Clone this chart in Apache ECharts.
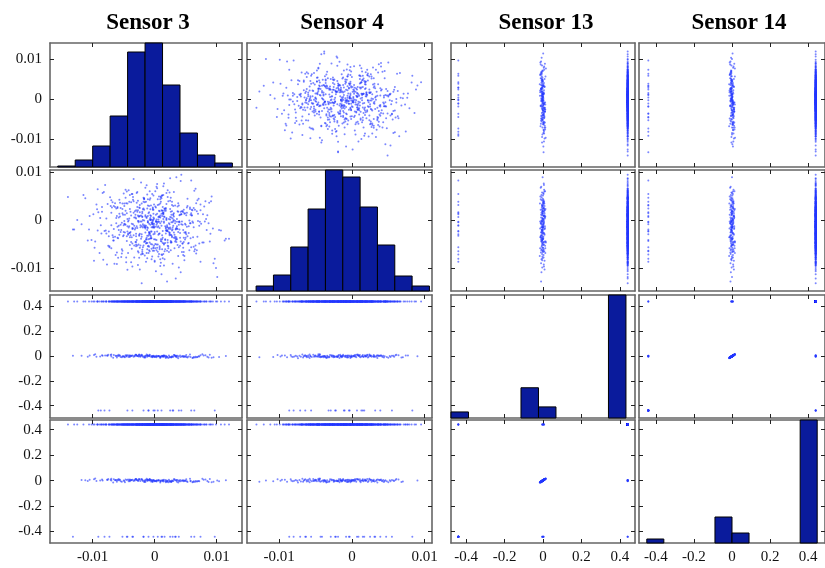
<!DOCTYPE html>
<html><head><meta charset="utf-8">
<script src="https://cdn.jsdelivr.net/npm/echarts@6/dist/echarts.min.js"></script>
<style>html,body{margin:0;padding:0;background:#fff;}#c{width:825px;height:568px;}</style>
</head><body><div id="c"></div>
<script>
// ---------------- DATA ----------------
const sensorNames = ['Sensor 3', 'Sensor 4', 'Sensor 13', 'Sensor 14'];
const smallTicks = [-0.01, 0, 0.01];
const largeTicks = [-0.4, -0.2, 0, 0.2, 0.4];

// samples: Sensor 3 and Sensor 4 in units of 1e-4
const s3raw = [
-12,35,-48,6,-71,22,-5,58,-30,14,-88,41,-17,3,66,-39,27,-60,9,-2,
49,-25,-94,18,-9,31,-53,72,-14,0,-36,85,-67,12,-21,44,-3,-118,26,-45,
7,63,-32,-11,38,-76,20,-58,95,-1,-27,15,-42,53,-84,29,-8,4,-62,36,
-19,77,-50,10,-33,24,-105,46,-6,61,-24,-70,33,-15,2,89,-41,17,-56,28,
-4,-37,50,-98,13,-28,69,-13,40,-64,21,-7,101,-46,8,-22,55,-80,30,-10,
43,-52,16,-132,34,-18,74,-35,5,-73,25,-2,59,-44,11,-91,39,-26,82,-16,
-59,19,-8,47,-29,65,-77,1,32,-49,92,-20,14,-66,42,-38,23,-108,57,-4,
27,-43,71,-12,-55,9,37,-85,48,-31,3,115,-23,18,-61,51,-9,-40,79,-17,
-70,30,-3,62,-47,13,-26,104,-57,20,-11,45,-96,35,-34,6,68,-21,-1,-75,
52,-15,24,-63,87,-40,10,-30,39,-112,26,-6,58,-51,15,-24,74,-87,0,33,
-45,12,64,-18,-81,29,-36,97,-10,41,-58,4,22,-69,50,-27,8,-140,36,-13,
18,-53,83,-7,-34,54,-99,25,-20,67,-43,11,-3,120,-62,31,-16,46,-79,5,
-28,70,-48,14,35,-65,2,-23,91,-37,19,-86,43,-12,60,-54,28,-5,-102,47,
-18,23,-72,56,-9,38,-44,7,-130,64,-30,16,-60,81,-22,1,49,-39,12,-83,
37,-14,75,-50,20,-27,107,-68,9,-41,53,-4,-93,30,-19,66,-57,15,-8,44,
-36,88,-25,3,-74,42,-11,61,-47,21,-115,34,-2,55,-66,26,-31,94,-17,10,
-52,17,40,-89,28,-6,73,-42,13,-24,99,-60,6,-35,48,-78,24,-13,59,-1,
31,-70,8,-20,63,-46,19,-125,45,-29,84,-11,2,-55,35,-92,50,-33,12,69,
-15,46,-64,23,-38,7,90,-51,16,-8,57,-97,28,-21,39,-74,4,113,-44,18,
-27,60,-3,-82,33,-16,52,-61,11,-40,78,-30,25,-106,42,-7,67,-49,20,-12,
5,-22,31,-9,14,-40,2,26,-17,-3,45,-31,11,-6,20,-52,8,-14,37,-25,
-1,18,-36,9,-11,53,-20,4,28,-45,13,-7,-29,40,-2,16,-60,24,-13,6,
34,-16,-4,21,-47,12,-27,3,57,-19,-8,30,-38,15,-1,-55,25,-10,42,-23,
10,-33,19,-2,-64,36,-12,7,-26,48,1,-41,22,-15,65,-6,-30,13,-49,27,
-9,39,-21,4,-35,17,-56,29,-5,11,-43,23,-18,72,-28,0,14,-67,33,-11,
47,-7,-24,16,-3,-50,26,-14,8,60,-37,12,-20,3,-78,38,-9,19,-32,1,
-15,28,-44,9,32,-26,-2,51,-17,6,-58,21,-6,43,-34,15,-12,80,-23,-4,
24,-52,13,-8,37,-29,5,-70,18,-1,44,-19,27,-39,10,-5,58,-46,7,-16,
3,-25,49,-13,-61,20,-4,33,-42,14,-10,68,-30,2,25,-53,11,-21,39,-7,
-36,17,-2,55,-24,8,-48,30,-12,4,-85,26,-19,46,-6,13,-33,21,-1,62,
-20,6,35,-41,15,-9,-27,50,-14,2,-66,29,-3,19,-45,11,41,-28,-8,24,
12,-57,27,-5,-18,40,-31,9,74,-22,-1,16,-50,33,-11,5,-38,22,-15,47,
-6,31,-47,18,-2,-73,14,-24,36,-9,56,-35,7,-16,25,-3,-59,43,-12,10,
38,-13,-30,8,52,-40,1,-19,27,-7,-54,15,-26,63,-10,20,-44,4,31,-21,
-11,45,-3,-68,23,-17,12,-37,59,-8,29,-24,3,-49,17,-1,36,-92,14,-5,
21,-28,9,-15,70,-43,26,-6,-34,11,48,-20,-2,34,-62,7,-13,41,-25,0
];
const s4raw = [
-20,-45,12,-3,30,-58,-14,-37,21,-70,5,-26,44,-9,-52,18,-31,26,-81,2,
-40,8,33,-17,-62,15,-5,-48,39,-24,-96,11,-35,52,-12,-66,27,-8,-43,60,
-28,-55,19,-1,-74,34,-22,6,-89,-15,41,-50,0,-33,57,-19,-64,14,-6,-39,
23,-46,-10,48,-77,-25,9,-57,31,-2,-102,16,-34,68,-13,-44,4,-60,37,-21,
-7,55,-36,-84,20,-16,42,-68,-4,28,-53,1,-118,36,-27,10,-47,74,-11,-32,
13,-63,25,-19,-41,47,-86,-8,32,-56,7,-29,83,-23,-71,17,-3,-50,40,-14,
-37,3,61,-45,-12,22,-92,29,-30,-1,50,-65,14,-18,-108,38,-6,-42,24,-75,
6,-28,45,-60,-9,35,-51,18,-83,-16,70,-38,-2,26,-67,11,-24,53,-46,0,
-58,30,-13,-35,64,-79,8,-20,43,-127,-4,19,-44,90,-31,2,-62,35,-15,-53,
16,-25,58,-72,-6,24,-39,4,-98,46,-18,-49,12,-33,77,-57,21,-10,-86,31,
-43,9,-64,39,-22,-4,55,-80,15,-36,-11,67,-54,27,-26,-93,7,49,-17,-40,
20,-69,3,-31,86,-48,13,-15,-61,36,-2,-112,25,-38,5,59,-73,17,-21,44,
-52,14,-8,71,-35,-90,27,-14,40,-59,1,-27,95,-47,11,-76,32,-5,-41,22,
-11,-66,48,0,-29,18,-103,33,-19,62,-45,7,-36,-2,79,-58,15,-24,52,-82,
29,-39,-7,56,-63,10,-21,38,-95,-12,45,-50,23,-1,-70,66,-30,8,-46,19,
-16,37,-78,2,-33,82,-54,21,-9,-41,53,-121,14,-26,30,-62,6,-17,46,-88,
24,-47,11,-68,39,-23,-3,63,-36,17,-99,28,-12,49,-74,4,-31,73,-56,-7,
-25,42,-60,15,-14,-87,34,1,-48,57,-20,9,-106,26,-38,65,-9,-52,20,-34,
8,-72,36,-18,-45,50,-28,12,-81,43,-6,-57,19,-131,31,-23,76,-42,3,-15,
-64,22,-1,59,-37,-10,27,-91,46,-26,13,-54,88,-19,-44,5,-69,35,-13,54,
-14,-38,8,-25,16,-51,-3,-30,22,-63,-9,12,-44,1,-20,35,-57,-11,19,-32,
4,-27,-48,10,-16,30,-69,-6,-35,15,-22,46,-41,-2,-58,24,-13,-29,7,-75,
-19,38,-8,-46,20,-31,-1,-62,27,-15,-38,11,-87,-5,33,-24,2,-53,18,-10,
-43,6,-21,52,-34,-12,25,-70,-4,14,-49,-26,40,-17,-60,9,-33,28,-7,-45,
17,-56,-2,-23,43,-39,8,-15,-81,21,-30,3,-52,-11,59,-28,13,-42,-6,31,
-36,-9,26,-64,1,-24,47,-48,-16,10,-35,-72,18,-3,-27,36,-55,5,-19,-40,
11,-33,-12,44,-58,-1,22,-29,-45,7,-20,63,-37,-8,16,-94,-14,29,-52,-4,
-26,15,-47,2,-18,37,-65,-10,24,-39,-2,-56,12,-31,50,-23,-6,-77,20,-13,
-50,27,-7,-36,9,-22,55,-44,-15,3,-68,19,-28,-1,41,-60,14,-34,-9,23,
-18,-41,6,-12,32,-54,-25,13,-79,-3,28,-46,1,-20,-37,15,-11,49,-63,-5,
8,-30,-16,39,-48,-7,21,-24,-86,12,-42,4,-15,57,-33,-2,-53,18,-27,-8,
-39,14,-4,-59,25,-19,-45,6,33,-71,-12,20,-31,-1,44,-50,10,-23,-14,-66,
2,-36,47,-21,-9,-54,16,-28,-3,30,-62,-17,8,-43,24,-6,-78,13,-32,39,
-24,5,-50,19,-13,-35,61,-8,-46,11,-20,-2,-67,26,-39,-10,35,-57,1,-29,
-4,-48,22,-31,-16,45,-60,-7,15,-26,-90,9,-41,30,-12,-52,3,-21,53,-37,
-15,28,-6,-44,-1,-68,18,-33,40,-11,-25,7,-56,-18,25,-3,-47,12,-30,-84
];
// samples: Sensor 13 and Sensor 14 in units of 0.001
const s13raw = [
-5,3,-10,-2,8,-15,0,-7,10,-5,-3,5,-12,2,-6,0,-10,5,-8,3,
-2,12,-5,-15,0,8,-10,-3,3,-8,5,-5,-13,0,10,-2,-6,2,-10,7,
0,-7,-2,5,-17,3,-5,10,-10,-3,0,5,-8,-12,2,-5,7,-2,0,-10,
-5,15,-2,-7,3,-10,5,0,-5,-15,8,-3,2,-12,-5,10,0,-7,5,-2,
-10,3,-5,8,-2,0,-7,12,
440,440,440,440,440,
0,-5,2,-3,5,
-440,-440,-440,
-2,0,3,-5,
440,440,440,
-440,-440,-440,-440,-440,-440,-440,-440,-440,
-3,6,-9,1,-4,11,-7,2,-12,4,-1,8,-6,-14,3,-2,9,-8,0,5,
-5,13,-3,-10,7,-1,4,-7,-16,2,6,-4,10,-9,1,-6,3,-11,8,-2,
-8,4,-1,12,-5,0,-13,6,-3,9,-7,2,-10,5,-4,14,-2,-6,1,-9,
7,-3,11,-8,0,-5,3,-12,6,-1,9,-4,
440,440,440,440,
-3,4,-1,6,
-440,-440,
1,-4,3,
-440,-440,-440,-440,-440,-440,-440,
440,440,440,440,440,440,440,440,440,440,440,440,440,440,440,440,440,440,440,440,
440,440,440,440,440,440,440,440,440,440,440,440,440,440,440,440,440,440,440,440,
440,440,440,440,440,440,440,440,440,440,440,440,440,440,440,440,440,440,440,440,
440,440,440,440,440,440,440,440,440,440,440,440,440,440,440,440,440,440,440,440,
440,440,440,440,440,440,440,440,440,440,440,440,440,440,440,440,440,440,440,440,
440,440,440,440,440,440,440,440,440,440,440,440,440,440,440,440,440,440,440,440,
440,440,440,440,440,440,440,440,440,440,440,440,440,440,440,440,440,440,440,440,
440,440,440,440,440,440,440,440,440,440,440,440,440,440,440,440,440,440,440,440,
440,440,440,440,440,440,440,440,440,440,440,440,440,440,440,440,440,440,440,440,
440,440,440,440,440,440,440,440,440,440,440,440,440,440,440,440,440,440,440,440,
440,440,440,440,440,440,440,440,440,440,440,440,440,440,440,440,440,440,440,440,
440,440,440,440,440,440,440,440,440,440,440,440,440,440,440,440,440,440,440,440,
440,440,440,440,440,440,440,440,440,440,440,440,440,440,440,440,440,440,440,440,
440,440,440,440,440,440,440,440,440,440,440,440,440,440,440,440,440,440,440,440,
440,440,440,440,440,440,440,440,440,440,440,440,440,440,440,440,440,440,440,440,
440,440,440,440,440,440,440,440,440,440,440,440,440,440,440,440,440,440,440,440,
440,440,440,440,440,440,440,440,440,440,440,440,440,440,440,440,440,440,440,440,
440,440,440,440,440,440,440,440,440,440,440,440,440,440,440,440,440,440,440,440,
440,440,440,440,440,440,440,440,440,440,440,440,440,440,440,440,440,440,440,440,
440,440,440,440,440,440,440,440,440,440,440,440,440,440,440,440,440,440,440,440,
440,440,440,440,440,440,440,440,440,440,440,440,440,440,440,440,440,440,440,440,
440,440,440,440,440,440,440,440,440,440,440,440,440,440,440,440,440,440,440,440,
440,440,440,440,440,440,440,440,440,440,440,440,440,440,440,440,440,440,440,440,
440,440,440,440,440,440,440,440,440,440,440,440,440,440,440,440,440,440,440,440,
440,440,440,440,440,440,440,440,440,440,440,440,440,440,440,440,440,440,440,440,
440,440,440,440,440,440,440,440,440,440,440
];
const s14raw = [
-3,5,-12,0,6,-13,2,-5,12,-7,0,5,-10,0,-3,2,-8,7,-5,5,
0,10,-3,-13,3,10,-8,-5,5,-6,7,-3,-15,2,12,0,-8,5,-8,5,
2,-5,0,7,-15,5,-3,12,-8,0,-2,7,-5,-10,0,-3,10,0,2,-8,
-3,15,0,-5,5,-8,7,2,-7,-12,10,0,3,-10,-3,12,2,-5,7,0,
-8,5,-3,10,0,2,-5,15,
-5,3,-2,5,0,
440,440,440,440,440,
440,440,440,
-440,-440,-440,-440,
-440,-440,-440,
-440,-440,-440,-440,-440,-440,-440,-440,-440,
-1,8,-7,3,-6,13,-5,4,-10,6,-3,10,-4,-12,5,0,11,-6,2,7,
-3,15,-1,-8,9,-3,6,-5,-14,4,8,-2,12,-7,3,-4,5,-9,10,0,
-6,6,1,14,-3,2,-11,8,-1,11,-5,4,-8,7,-2,16,0,-4,3,-7,
9,-1,13,-6,2,-3,5,-10,8,1,11,-2,
2,-4,5,-1,
440,440,440,440,
440,440,
-440,-440,-440,
-440,-440,-440,-440,-440,-440,-440,
440,440,440,440,440,440,440,440,440,440,440,440,440,440,440,440,440,440,440,440,
440,440,440,440,440,440,440,440,440,440,440,440,440,440,440,440,440,440,440,440,
440,440,440,440,440,440,440,440,440,440,440,440,440,440,440,440,440,440,440,440,
440,440,440,440,440,440,440,440,440,440,440,440,440,440,440,440,440,440,440,440,
440,440,440,440,440,440,440,440,440,440,440,440,440,440,440,440,440,440,440,440,
440,440,440,440,440,440,440,440,440,440,440,440,440,440,440,440,440,440,440,440,
440,440,440,440,440,440,440,440,440,440,440,440,440,440,440,440,440,440,440,440,
440,440,440,440,440,440,440,440,440,440,440,440,440,440,440,440,440,440,440,440,
440,440,440,440,440,440,440,440,440,440,440,440,440,440,440,440,440,440,440,440,
440,440,440,440,440,440,440,440,440,440,440,440,440,440,440,440,440,440,440,440,
440,440,440,440,440,440,440,440,440,440,440,440,440,440,440,440,440,440,440,440,
440,440,440,440,440,440,440,440,440,440,440,440,440,440,440,440,440,440,440,440,
440,440,440,440,440,440,440,440,440,440,440,440,440,440,440,440,440,440,440,440,
440,440,440,440,440,440,440,440,440,440,440,440,440,440,440,440,440,440,440,440,
440,440,440,440,440,440,440,440,440,440,440,440,440,440,440,440,440,440,440,440,
440,440,440,440,440,440,440,440,440,440,440,440,440,440,440,440,440,440,440,440,
440,440,440,440,440,440,440,440,440,440,440,440,440,440,440,440,440,440,440,440,
440,440,440,440,440,440,440,440,440,440,440,440,440,440,440,440,440,440,440,440,
440,440,440,440,440,440,440,440,440,440,440,440,440,440,440,440,440,440,440,440,
440,440,440,440,440,440,440,440,440,440,440,440,440,440,440,440,440,440,440,440,
440,440,440,440,440,440,440,440,440,440,440,440,440,440,440,440,440,440,440,440,
440,440,440,440,440,440,440,440,440,440,440,440,440,440,440,440,440,440,440,440,
440,440,440,440,440,440,440,440,440,440,440,440,440,440,440,440,440,440,440,440,
440,440,440,440,440,440,440,440,440,440,440,440,440,440,440,440,440,440,440,440,
440,440,440,440,440,440,440,440,440,440,440,440,440,440,440,440,440,440,440,440,
440,440,440,440,440,440,440,440,440,440,440
];

// histograms (diagonal): bin edges and counts
const hist3Edges = [-0.01565,-0.01283,-0.01001,-0.00719,-0.00437,-0.00155,0.00127,0.00409,0.00691,0.00973,0.01255];
const hist3Counts = [2,14,42,102,230,248,164,68,24,8];
const hist4Edges = [-0.01315,-0.01077,-0.00839,-0.00601,-0.00363,-0.00125,0.00113,0.00351,0.00589,0.00827,0.01065];
const hist4Counts = [5,16,44,82,121,114,84,46,15,5];
const hist13Edges = [-0.478,-0.3871,-0.2962,-0.2053,-0.1144,-0.0235,0.0674,0.1583,0.2492,0.3401,0.431];
const hist13Counts = [6,0,0,0,30,11,0,0,0,122];
const hist14Edges = [-0.448,-0.3584,-0.2688,-0.1792,-0.0896,0,0.0896,0.1792,0.2688,0.3584,0.448];
const hist14Counts = [4,0,0,0,26,10,0,0,0,123];

// axis ranges
const xRanges = [[-0.0169,0.0141],[-0.0144,0.0110],[-0.478,0.478],[-0.489,0.489]];
const yRanges = [[-0.0169,0.0141],[-0.0147,0.0105],[-0.50,0.493],[-0.49,0.476]];

// ---------------- BUILD ----------------
const sensors = [
  s3raw.map(v => v * 1e-4),
  s4raw.map(v => v * 1e-4),
  s13raw.map(v => v * 1e-3),
  s14raw.map(v => v * 1e-3)
];
const hists = [[hist3Edges,hist3Counts],[hist4Edges,hist4Counts],[hist13Edges,hist13Counts],[hist14Edges,hist14Counts]];

const colsL = [50,247,451,639], colsR = [242,432,635,831];
const rowsT = [43,170,295,420], rowsB = [167,291,418,543];
const titleX = [143,337,541,734];

const serif = '"Liberation Serif","Times New Roman",serif';
const lineStyle = {color:'#666', width:1.6};
const tickStyle = {color:'#222', width:1};
const lblStyle = {fontFamily:serif, fontSize:15, color:'#111'};
const fmt = v => String(v);

const grids = [], xAxes = [], yAxes = [], series = [];
const N = Math.min(...sensors.map(a => a.length));

for (let r = 0; r < 4; r++) {
  for (let c = 0; c < 4; c++) {
    const k = grids.length;
    grids.push({left:colsL[c], top:rowsT[r], width:colsR[c]-colsL[c], height:rowsB[r]-rowsT[r]});
    const xt = c < 2 ? smallTicks : largeTicks;
    const yt = r < 2 ? smallTicks : largeTicks;
    const xb = xAxes.length;
    ['bottom','top'].forEach((pos, j) => {
      xAxes.push({type:'value', gridIndex:k, position:pos, min:xRanges[c][0], max:xRanges[c][1],
        axisLine:{show:true, onZero:false, lineStyle},
        axisTick:{show:true, inside:true, length:4, customValues:xt, lineStyle:tickStyle},
        axisLabel:{show:(j===0 && r===3), customValues:xt, formatter:fmt, margin:7, ...lblStyle},
        splitLine:{show:false}});
    });
    const yb = yAxes.length;
    ['left','right'].forEach((pos, j) => {
      yAxes.push({type:'value', gridIndex:k, position:pos, min:yRanges[r][0], max:yRanges[r][1],
        axisLine:{show:true, onZero:false, lineStyle},
        axisTick:{show:true, inside:true, length:4, customValues:yt, lineStyle:tickStyle},
        axisLabel:{show:(j===0 && c===0), customValues:yt, formatter:fmt, margin:8, ...lblStyle},
        splitLine:{show:false}});
    });
    if (r === c) {
      const [edges, counts] = hists[r];
      const hy = yAxes.length;
      yAxes.push({type:'value', gridIndex:k, min:0, max:Math.max(...counts), show:false, splitLine:{show:false}});
      const data = [];
      counts.forEach((n, i) => { if (n > 0) data.push([edges[i], edges[i+1], n]); });
      series.push({type:'custom', xAxisIndex:xb, yAxisIndex:hy, silent:true, data,
        renderItem:(params, api) => {
          const p0 = api.coord([api.value(0), api.value(2)]);
          const p1 = api.coord([api.value(1), 0]);
          return {type:'rect', shape:{x:p0[0], y:p0[1], width:p1[0]-p0[0], height:p1[1]-p0[1]},
            style:{fill:'#0a1b9c', stroke:'#000', lineWidth:1}};
        }});
    } else {
      const data = [];
      for (let i = 0; i < N; i++) data.push([sensors[c][i], sensors[r][i]]);
      series.push({type:'scatter', xAxisIndex:xb, yAxisIndex:yb, silent:true, data,
        symbolSize:2, itemStyle:{color:'rgba(35,55,255,0.75)'}});
    }
  }
}

const titles = sensorNames.map((t, i) => ({text:t, left:titleX[i], top:7, textAlign:'center',
  textStyle:{fontFamily:serif, fontWeight:'bold', fontSize:23, color:'#000'}}));

const chart = echarts.init(document.getElementById('c'), null, {renderer:'canvas'});
chart.setOption({animation:false, backgroundColor:'#fff', title:titles, grid:grids, xAxis:xAxes, yAxis:yAxes, series});
</script></body></html>
